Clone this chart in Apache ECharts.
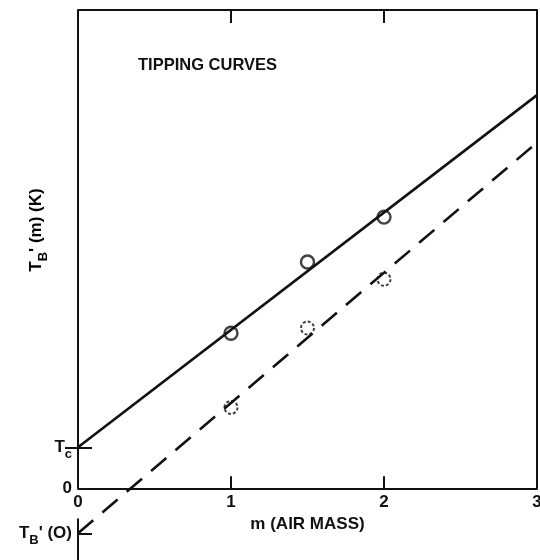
<!DOCTYPE html>
<html>
<head>
<meta charset="utf-8">
<script src="https://cdn.jsdelivr.net/npm/echarts@6/dist/echarts.min.js"></script>
<style>
  html, body { margin: 0; padding: 0; background: #fff; }
  #chart { width: 540px; height: 560px; }
</style>
</head>
<body>
<div id="chart"></div>
<script>
// values (y in arbitrary brightness units, 0 = axis origin)
const massTicks = [0, 1, 2, 3];
const massObs = [1, 1.5, 2];
const solidObs = [3.24, 4.73, 5.67];
const dashObs = [1.69, 3.35, 4.37];
const fitX = [0, 3];
const solidFit = [0.857, 8.22];
const dashFit = [-0.941, 7.23];
const Tc = 0.857;
const TB0 = -0.941;
const yMin = -1.5, yMax = 10;
const lowAxisTop = -0.63;

const font = 'Liberation Sans';
const ink = '#111';
const rich = {
  t: { fontFamily: font, fontWeight: 'bold', fontSize: 17, color: ink, lineHeight: 28, verticalAlign: 'middle' },
  s: { fontFamily: font, fontWeight: 'bold', fontSize: 13, color: ink, lineHeight: 12, verticalAlign: 'bottom' }
};

function near(a, b) { return Math.abs(a - b) < 1e-6; }

const chart = echarts.init(document.getElementById('chart'));
// x axis sits at y = 0, which is this many px above the bottom of the grid
const gridH = 550;
const zeroOffset = -gridH * (0 - yMin) / (yMax - yMin);

chart.setOption({
  backgroundColor: '#fff',
  animation: false,
  title: {
    text: 'TIPPING CURVES',
    left: 138, top: 57, padding: 0,
    textStyle: { fontFamily: font, fontWeight: 'bold', fontSize: 16.5, color: ink }
  },
  grid: { left: 78, right: 3, top: 10, height: gridH, outerBoundsMode: 'none', containLabel: false },
  xAxis: [
    {
      type: 'value', min: 0, max: 3, position: 'bottom', offset: zeroOffset,
      axisLine: { onZero: false, lineStyle: { color: ink, width: 2 } },
      axisTick: { inside: true, length: 12, customValues: [1, 2], lineStyle: { color: ink, width: 2 } },
      axisLabel: {
        customValues: massTicks, margin: 6,
        fontFamily: font, fontWeight: 'bold', fontSize: 17, color: ink
      },
      splitLine: { show: false },
      name: 'm (AIR MASS)', nameLocation: 'middle', nameGap: 21,
      nameTextStyle: { fontFamily: font, fontWeight: 'bold', fontSize: 17, color: ink }
    },
    {
      type: 'value', min: 0, max: 3, position: 'top',
      axisLine: { onZero: false, lineStyle: { color: ink, width: 2 } },
      axisTick: { inside: true, length: 13, customValues: [1, 2], lineStyle: { color: ink, width: 2 } },
      axisLabel: { show: false },
      splitLine: { show: false }
    }
  ],
  yAxis: [
    {
      type: 'value', min: yMin, max: yMax,
      axisLine: { show: false },
      axisTick: { show: true, inside: true, length: 14, customValues: [Tc, TB0], lineStyle: { color: ink, width: 2 } },
      axisLabel: {
        customValues: [TB0, 0, Tc], margin: 6, rich: rich,
        formatter: function (v) {
          if (near(v, Tc)) return '{t|T}{s|c}';
          if (near(v, TB0)) return '{t|T}{s|B}{t|\' (O)}';
          return '{t|0}';
        }
      },
      splitLine: { show: false }
    },
    {
      type: 'value', min: yMin, max: yMax, position: 'right',
      axisLine: { show: false },
      axisTick: { show: true, inside: true, length: 13, customValues: [Tc], lineStyle: { color: ink, width: 2 } },
      axisLabel: { show: false },
      splitLine: { show: false }
    }
  ],
  graphic: [{
    type: 'text', x: 36, y: 230, rotation: Math.PI / 2,
    style: {
      text: '{t|T}{s|B}{t|\' (m) (K)}', rich: rich,
      align: 'center', verticalAlign: 'middle'
    }
  }],
  series: [
    {
      type: 'line', data: fitX.map((x, i) => [x, solidFit[i]]),
      symbol: 'none', lineStyle: { color: ink, width: 2.6 }, silent: true,
      markLine: {
        silent: true, symbol: 'none', label: { show: false },
        lineStyle: { color: ink, width: 2, type: 'solid' },
        data: [
          [{ coord: [0, 0] }, { coord: [0, yMax] }],
          [{ coord: [0, lowAxisTop] }, { coord: [0, yMin] }],
          [{ coord: [3, 0] }, { coord: [3, yMax] }]
        ]
      }
    },
    {
      type: 'line', data: fitX.map((x, i) => [x, dashFit[i]]),
      symbol: 'none', lineStyle: { color: ink, width: 2.6, type: [20, 12] }, silent: true
    },
    {
      type: 'scatter', data: massObs.map((x, i) => [x, solidObs[i]]),
      symbol: 'circle', symbolSize: 13,
      itemStyle: { color: '#fff', borderColor: ink, borderWidth: 2.4 }
    },
    {
      type: 'scatter', data: massObs.map((x, i) => [x, dashObs[i]]),
      symbol: 'circle', symbolSize: 13,
      itemStyle: { color: '#fff', borderColor: ink, borderWidth: 2, borderType: [3, 2] }
    }
  ]
});
</script>
</body>
</html>
